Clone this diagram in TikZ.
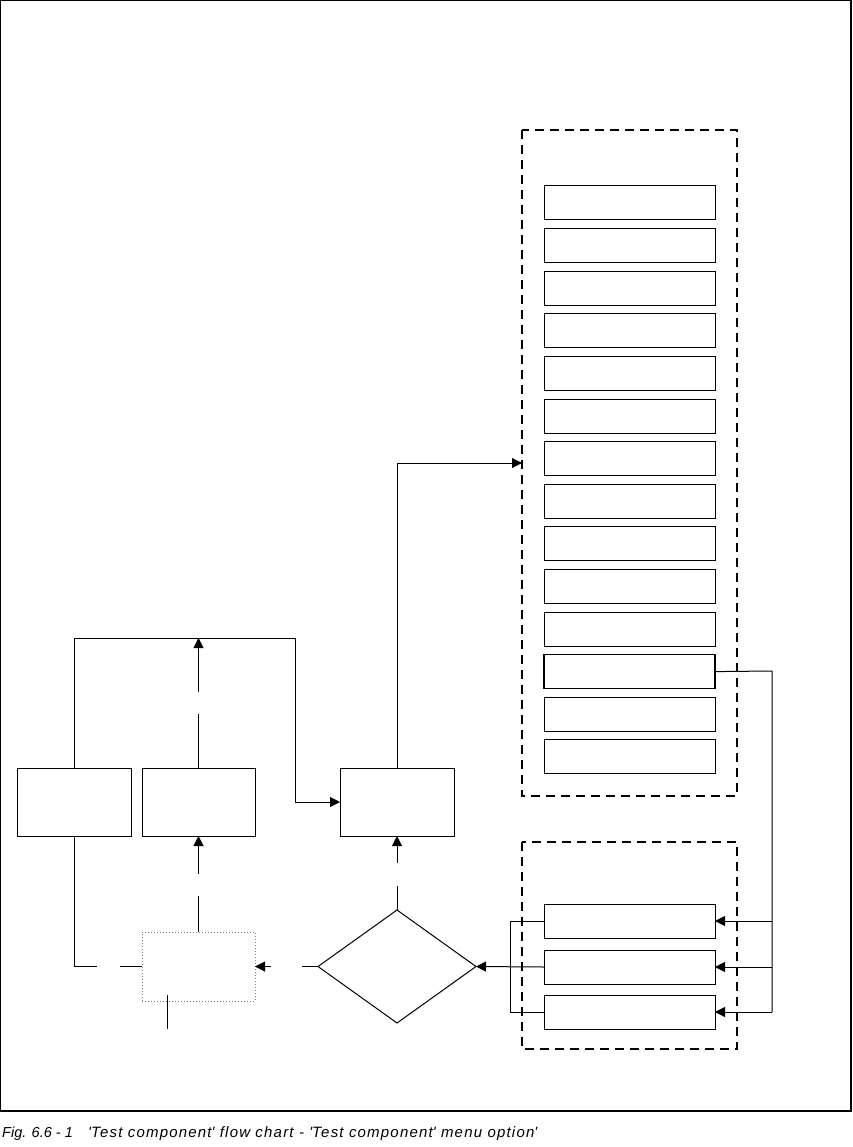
\documentclass[tikz,border=0pt]{standalone}
\usepackage{fontspec}
\setmainfont{Liberation Sans}
\newfontfamily\captfont{Liberation Sans}[LetterSpace=8]
\usepackage{tikz}
\usetikzlibrary{calc,arrows.meta,shapes.geometric}

\tikzset{
  box/.style={draw,line width=1pt,inner sep=0pt,outer sep=0pt},
  selbox/.style={box,line width=1.4pt},
  dotbox/.style={draw=gray,dotted,line width=1pt,inner sep=0pt,outer sep=0pt},
  group/.style={line width=1.6pt,dash pattern=on 9pt off 6pt},
  link/.style={line width=1pt},
  capt/.style={anchor=base west,inner sep=0pt},
}

\begin{document}
\begin{tikzpicture}[x=1pt,y=-1pt,>={Triangle[length=10pt,width=10pt]}]
			\useasboundingbox (0,0) rectangle (852,1147);
			
			% Rahmen
			\draw[line width=1.1pt] (0.5,0.5) rectangle (851,1111);
			
			% linke Kaestchen
			\node[box,minimum width=114,minimum height=68] (L1) at (74,802) {};
			\node[box,minimum width=113,minimum height=68] (L2) at (198.5,802) {};
			\node[box,minimum width=114,minimum height=68] (P) at (397,802) {};
			\node[dotbox,minimum width=113,minimum height=69] (D) at (198.5,966.5) {};
			\node[draw,diamond,line width=1pt,inner sep=0pt,outer sep=0pt,
			      minimum width=158,minimum height=113] (dia) at (397,966.5) {};
			
			% Menue
			\draw[group] (522,130) rectangle (737,796);
			\foreach \i in {1,...,14}{
				\node[box,minimum width=171,minimum height=34] (m\i) at (629.5,{203+42.6*(\i-1)}) {};
			}
			\node[selbox,minimum width=171,minimum height=34] at (m12) {};
			
			% Auswahl unten
			\draw[group] (522,842) rectangle (737,1049);
			\node[box,minimum width=171,minimum height=34] (b1) at (629.5,921) {};
			\node[box,minimum width=171,minimum height=34] (b2) at (629.5,967) {};
			\node[box,minimum width=171,minimum height=34] (b3) at (629.5,1012) {};
			
			\coordinate (grpin) at (522,463);
			\coordinate (busT) at (772,671);
			\coordinate (retx) at (510,921);
			\coordinate (top) at (198.5,638);
			\coordinate (jog) at (295,638);
			
			% Verbindungen
			\draw[link,->] (P.north) |- (grpin);
			\draw[link] (m12.east) -- (busT) -- (busT |- b3.east);
			\foreach \b in {b1,b2,b3}
				\draw[link,->] (busT |- \b.east) -- (\b.east);
			\draw[link] (b1.west) -- (retx) |- (b3.west);
			\draw[link,->] (b2.west) -- (dia.east);
			
			\draw[link] (dia.north) -- ++(0,-24);
			\draw[link,->] ($(P.south)+(0,27)$) -- (P.south);
			\draw[link] (dia.west) -- ++(-16,0);
			\draw[link,->] ($(D.east)+(16,0)$) -- (D.east);
			\draw[link] (D.west) -- ++(-22,0);
			\draw[link] ($(D.west)+(-45,0)$) -| (L1.south);
			\draw[link] (D.north) -- ++(0,-36);
			\draw[link,->] ($(L2.south)+(0,38)$) -- (L2.south);
			\draw[link] (L2.north) -- ++(0,-54);
			\draw[link,->] ($(top)+(0,54)$) -- (top);
			\draw[link,->] (L1.north) |- (jog) |- (P.west);
			\draw[link] ($(D.south)+(-31.5,-6)$) -- ++(0,34);
			
			% Bildunterschrift
			\node[capt,font=\fontsize{14.5}{17}\selectfont\itshape] (fignum) at (2,1137) {Fig. 6.6 - 1};
			\node[capt,font=\fontsize{15}{17}\selectfont\captfont\itshape] (figtitle) at (88,1137)
				{\textquotesingle Test component\textquotesingle{} flow chart - \textquotesingle Test component\textquotesingle{} menu option\textquotesingle};
			
		\end{tikzpicture}
\end{document}
